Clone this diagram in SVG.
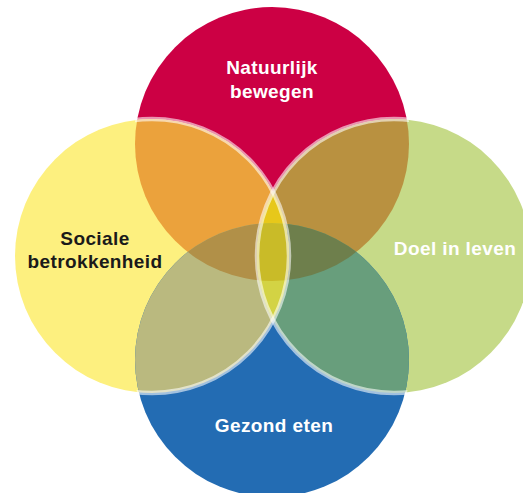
<svg xmlns="http://www.w3.org/2000/svg" width="523" height="493" viewBox="0 0 523 493">
  <style>
    .lbl { font-family: "Liberation Sans", Arial, sans-serif; font-weight: bold; font-size: 19px; letter-spacing: 0.4px; text-anchor: middle; }
    .w { fill: #ffffff; }
    .k { fill: #1a1a1a; }
    .ring { fill: none; stroke: #ffffff; stroke-opacity: 0.58; stroke-width: 4.5; }
  </style>
  <defs>
    <clipPath id="cR"><circle cx="272" cy="144" r="137"/></clipPath>
    <clipPath id="cY"><circle cx="152" cy="256" r="137"/></clipPath>
    <clipPath id="cG"><circle cx="394" cy="256" r="137"/></clipPath>
    <clipPath id="cB"><circle cx="272" cy="360" r="137"/></clipPath>
    <clipPath id="notY"><circle cx="272" cy="144" r="139"/><circle cx="394" cy="256" r="139"/><circle cx="272" cy="360" r="139"/></clipPath>
    <clipPath id="notG"><circle cx="272" cy="144" r="139"/><circle cx="152" cy="256" r="139"/><circle cx="272" cy="360" r="139"/></clipPath>
  </defs>
  <rect width="523" height="493" fill="#ffffff"/>

  <g id="natuurlijk-bewegen-circle"><circle cx="272" cy="144" r="137" fill="#CC0044"/></g>
  <g id="sociale-betrokkenheid-circle"><circle cx="152" cy="256" r="137" fill="#FDF07F"/></g>
  <g id="doel-in-leven-circle"><circle cx="394" cy="256" r="137" fill="#C6DA88"/></g>
  <g id="gezond-eten-circle"><circle cx="272" cy="360" r="137" fill="#236CB3"/></g>

  <g id="overlaps">
    <g clip-path="url(#cR)"><rect x="0" y="0" width="523" height="493" fill="#EBA23C" clip-path="url(#cY)"/></g>
    <g clip-path="url(#cR)"><rect x="0" y="0" width="523" height="493" fill="#B99140" clip-path="url(#cG)"/></g>
    <g clip-path="url(#cB)"><rect x="0" y="0" width="523" height="493" fill="#BAB97F" clip-path="url(#cY)"/></g>
    <g clip-path="url(#cB)"><rect x="0" y="0" width="523" height="493" fill="#689E7C" clip-path="url(#cG)"/></g>
    <g clip-path="url(#cR)"><g clip-path="url(#cB)"><rect x="0" y="0" width="523" height="493" fill="#B19048" clip-path="url(#cY)"/></g></g>
    <g clip-path="url(#cR)"><g clip-path="url(#cB)"><rect x="0" y="0" width="523" height="493" fill="#6E7F4C" clip-path="url(#cG)"/></g></g>
    <g clip-path="url(#cR)"><g clip-path="url(#cY)"><rect x="0" y="0" width="523" height="493" fill="#E7C81A" clip-path="url(#cG)"/></g></g>
    <g clip-path="url(#cB)"><g clip-path="url(#cY)"><rect x="0" y="0" width="523" height="493" fill="#D3D344" clip-path="url(#cG)"/></g></g>
    <g clip-path="url(#cR)"><g clip-path="url(#cB)"><g clip-path="url(#cY)"><rect x="0" y="0" width="523" height="493" fill="#C9BB28" clip-path="url(#cG)"/></g></g></g>
  </g>

  <g id="rings">
    <circle class="ring" cx="152" cy="256" r="137" clip-path="url(#notY)"/>
    <circle class="ring" cx="394" cy="256" r="137" clip-path="url(#notG)"/>
  </g>

  <g id="natuurlijk-bewegen">
    <text class="lbl w" x="272" y="74">Natuurlijk</text>
    <text class="lbl w" x="272" y="98">bewegen</text>
  </g>
  <g id="sociale-betrokkenheid">
    <text class="lbl k" x="95" y="245">Sociale</text>
    <text class="lbl k" x="95" y="268">betrokkenheid</text>
  </g>
  <g id="doel-in-leven">
    <text class="lbl w" x="455" y="255">Doel in leven</text>
  </g>
  <g id="gezond-eten">
    <text class="lbl w" x="274" y="432">Gezond eten</text>
  </g>
</svg>
